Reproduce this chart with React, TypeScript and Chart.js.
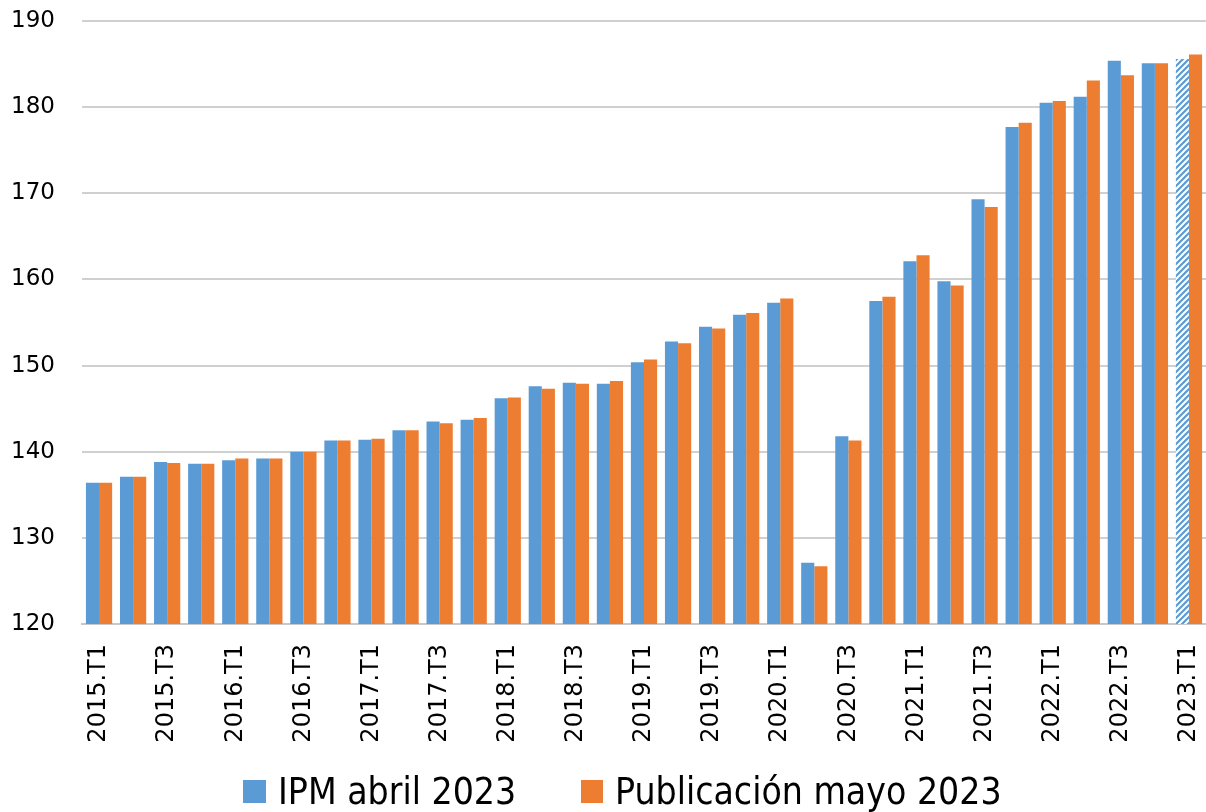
import React, { useEffect, useRef } from "react";
import { Chart, registerables } from "chart.js";

Chart.register(...registerables);

const categories = [
  "2015.T1", "2015.T2", "2015.T3", "2015.T4",
  "2016.T1", "2016.T2", "2016.T3", "2016.T4",
  "2017.T1", "2017.T2", "2017.T3", "2017.T4",
  "2018.T1", "2018.T2", "2018.T3", "2018.T4",
  "2019.T1", "2019.T2", "2019.T3", "2019.T4",
  "2020.T1", "2020.T2", "2020.T3", "2020.T4",
  "2021.T1", "2021.T2", "2021.T3", "2021.T4",
  "2022.T1", "2022.T2", "2022.T3", "2022.T4",
  "2023.T1",
];

const ipmAbril = [
  136.4, 137.1, 138.8, 138.6,
  139.0, 139.2, 140.0, 141.3,
  141.4, 142.5, 143.5, 143.7,
  146.2, 147.6, 148.0, 147.9,
  150.4, 152.8, 154.5, 155.9,
  157.3, 127.1, 141.8, 157.5,
  162.1, 159.8, 169.3, 177.7,
  180.5, 181.2, 185.4, 185.1,
  185.6,
];

const publicacionMayo = [
  136.4, 137.1, 138.7, 138.6,
  139.2, 139.2, 140.0, 141.3,
  141.5, 142.5, 143.3, 143.9,
  146.3, 147.3, 147.9, 148.2,
  150.7, 152.6, 154.3, 156.1,
  157.8, 126.7, 141.3, 158.0,
  162.8, 159.3, 168.4, 178.2,
  180.7, 183.1, 183.7, 185.1,
  186.1,
];

const yTicks = [120, 130, 140, 150, 160, 170, 180, 190];
const seriesNames = ["IPM abril 2023", "Publicación mayo 2023"];

const BLUE = "#5B9BD5";
const ORANGE = "#ED7D31";

function makeHatch(): CanvasPattern | string {
  const c = document.createElement("canvas");
  c.width = 6;
  c.height = 6;
  const ctx = c.getContext("2d");
  if (!ctx) return BLUE;
  ctx.fillStyle = "#ffffff";
  ctx.fillRect(0, 0, 6, 6);
  ctx.strokeStyle = BLUE;
  ctx.lineWidth = 2.2;
  ctx.beginPath();
  ctx.moveTo(-1, 7);
  ctx.lineTo(7, -1);
  ctx.moveTo(-4, 4);
  ctx.lineTo(4, -4);
  ctx.moveTo(2, 10);
  ctx.lineTo(10, 2);
  ctx.stroke();
  const p = ctx.createPattern(c, "repeat");
  return p || BLUE;
}

const legendFont = "'Liberation Sans Narrow', 'DejaVu Sans Condensed', sans-serif";

export default function App() {
  const ref = useRef<HTMLCanvasElement | null>(null);

  useEffect(() => {
    if (!ref.current) return;
    const hatch = makeHatch();
    const blueColors = ipmAbril.map((_, i) => (i === ipmAbril.length - 1 ? hatch : BLUE));
    const chart = new Chart(ref.current, {
      type: "bar",
      data: {
        labels: categories,
        datasets: [
          {
            label: seriesNames[0],
            data: ipmAbril,
            backgroundColor: blueColors as any,
            borderWidth: 0,
            categoryPercentage: 0.77,
            barPercentage: 1.0,
          },
          {
            label: seriesNames[1],
            data: publicacionMayo,
            backgroundColor: ORANGE,
            borderWidth: 0,
            categoryPercentage: 0.77,
            barPercentage: 1.0,
          },
        ],
      },
      options: {
        animation: false,
        responsive: false,
        maintainAspectRatio: false,
        layout: { padding: { top: 21, right: 0, left: 0, bottom: 0 } },
        plugins: {
          tooltip: { enabled: false },
          legend: { display: false },
        },
        scales: {
          x: {
            grid: { display: false },
            border: { display: true, color: "#c8c8c8", width: 2 },
            ticks: {
              autoSkip: false,
              maxRotation: 90,
              minRotation: 90,
              padding: 12,
              color: "#000",
              font: { family: "'DejaVu Sans', sans-serif", size: 24 },
              callback: (_v: any, i: number) => (i % 2 === 0 ? categories[i] : ""),
            },
            afterFit: (s: any) => {
              s.height = 188;
              s.paddingLeft = 0;
              s.paddingRight = 0;
            },
          },
          y: {
            min: 120,
            max: 190,
            afterBuildTicks: (s: any) => {
              s.ticks = yTicks.map((v) => ({ value: v }));
            },
            grid: { color: "#d0d0d0", lineWidth: 2, drawTicks: false },
            border: { display: false },
            ticks: {
              padding: 27,
              color: "#000",
              font: { family: "'DejaVu Sans', sans-serif", size: 23 },
            },
            afterFit: (s: any) => {
              s.width = 82;
              s.paddingTop = 0;
              s.paddingBottom = 0;
            },
          },
        },
      },
    });
    return () => chart.destroy();
  }, []);

  const textStyle: React.CSSProperties = {
    position: "absolute",
    top: 773,
    fontFamily: legendFont,
    fontSize: 37,
    lineHeight: "38px",
    color: "#000",
    whiteSpace: "nowrap",
  };

  return (
    <div style={{ position: "fixed", left: 0, top: 0, width: 1206, height: 812, background: "#fff" }}>
      <canvas ref={ref} width={1206} height={812} style={{ width: 1206, height: 812, display: "block" }} />
      <div style={{ position: "absolute", left: 243, top: 780, width: 23, height: 23, background: BLUE }} />
      <span style={{ ...textStyle, left: 278 }}>{seriesNames[0]}</span>
      <div style={{ position: "absolute", left: 581, top: 780, width: 22, height: 23, background: ORANGE }} />
      <span style={{ ...textStyle, left: 615 }}>{seriesNames[1]}</span>
    </div>
  );
}
